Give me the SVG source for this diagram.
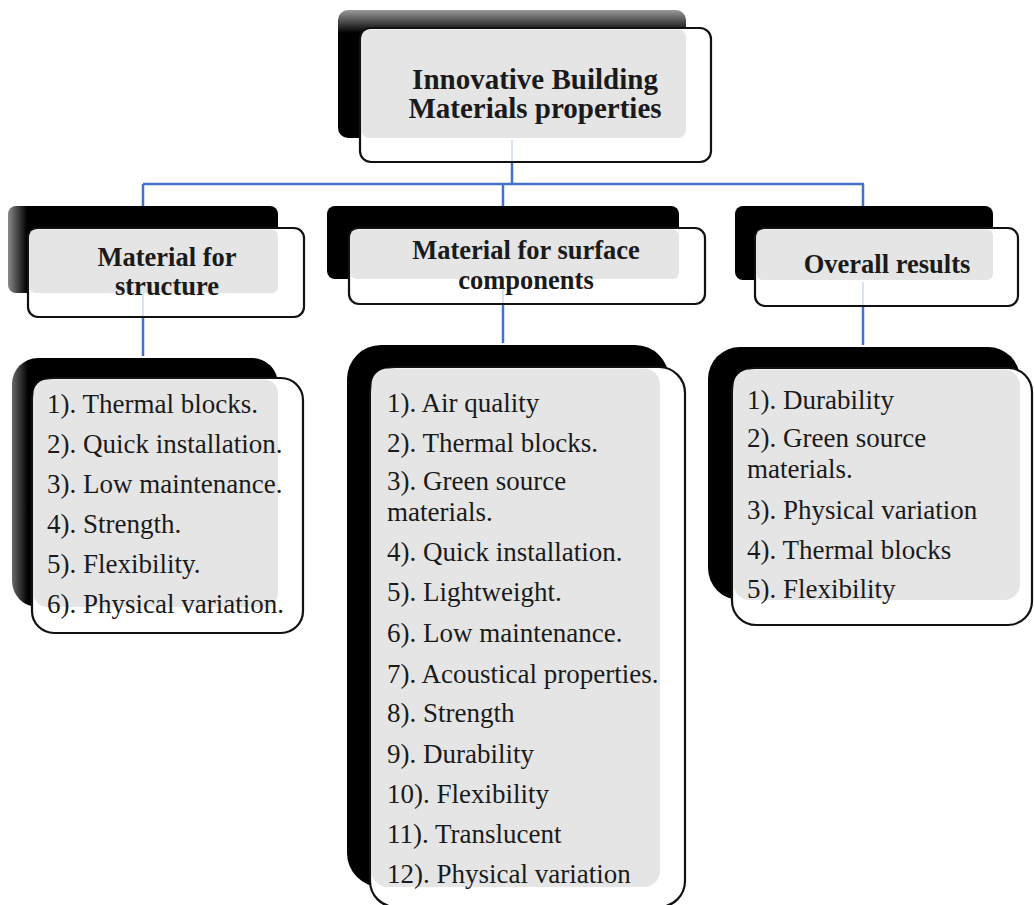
<svg xmlns="http://www.w3.org/2000/svg" width="1034" height="905" viewBox="0 0 1034 905">
<style>
.bk{fill:#000}
.ol{fill:#fff;stroke:#111;stroke-width:2.2}
.gr{fill:#e5e5e5}
.hd{font-family:"Liberation Serif","Times New Roman",Times,serif;font-weight:bold;font-size:26.5px;fill:#1a1a1a;text-anchor:middle}
.tt{font-family:"Liberation Serif","Times New Roman",Times,serif;font-weight:bold;font-size:29px;fill:#1a1a1a;text-anchor:middle}
.it{font-family:"Liberation Serif","Times New Roman",Times,serif;font-size:27px;fill:#1a1a1a}
.cn{fill:none;stroke:#4472c4;stroke-width:2.5}
.fn{fill:none;stroke:#4472c4;stroke-width:2;stroke-opacity:0.2}
</style>
<defs>
<linearGradient id="gv" x1="0" y1="0" x2="0" y2="1">
<stop offset="0" stop-color="#9a9a9a"/><stop offset="0.18" stop-color="#000"/><stop offset="1" stop-color="#000"/>
</linearGradient>
<linearGradient id="gh" x1="0" y1="0" x2="1" y2="0">
<stop offset="0" stop-color="#8a8a8a"/><stop offset="0.07" stop-color="#000"/><stop offset="1" stop-color="#000"/>
</linearGradient>
<linearGradient id="gh2" x1="0" y1="0" x2="1" y2="0">
<stop offset="0" stop-color="#6a6a6a"/><stop offset="0.06" stop-color="#000"/><stop offset="1" stop-color="#000"/>
</linearGradient>
</defs>
<rect x="0" y="0" width="1034" height="905" fill="#fff"/>

<g id="connectors">
<line class="cn" x1="512" y1="163" x2="512" y2="184"/>
<line class="cn" x1="143" y1="184" x2="864" y2="184"/>
<line class="cn" x1="143" y1="184" x2="143" y2="206"/>
<line class="cn" x1="503" y1="184" x2="503" y2="206"/>
<line class="cn" x1="863" y1="184" x2="863" y2="206"/>
<line class="cn" x1="143" y1="317" x2="143" y2="356"/>
<line class="cn" x1="503" y1="304" x2="503" y2="343"/>
<line class="cn" x1="863" y1="306" x2="863" y2="345"/>
</g>

<g id="node-title">
<rect x="338" y="10" width="348" height="128" rx="10" fill="url(#gv)"/>
<rect class="ol" x="360" y="28" width="351" height="134" rx="11"/>
<rect class="gr" x="361.5" y="29.5" width="324.5" height="108.5" rx="8"/>
<line class="fn" x1="512" y1="140" x2="512" y2="161"/>
<text class="tt" x="535" y="89">Innovative Building</text>
<text class="tt" x="535" y="118">Materials properties</text>
</g>

<g id="node-structure">
<rect x="8" y="206" width="270" height="87" rx="8" fill="url(#gh)"/>
<rect class="ol" x="28" y="228" width="276" height="89" rx="10"/>
<rect class="gr" x="29.5" y="229.5" width="248.5" height="63.5" rx="6"/>
<line class="fn" x1="143" y1="293" x2="143" y2="316"/>
<text class="hd" x="167" y="266">Material for</text>
<text class="hd" x="167" y="295">structure</text>
</g>

<g id="node-surface">
<rect class="bk" x="327" y="206" width="352" height="73" rx="8"/>
<rect class="ol" x="349" y="228" width="356" height="76" rx="10"/>
<rect class="gr" x="350.5" y="229.5" width="328.5" height="49.5" rx="6"/>
<line class="fn" x1="503" y1="281" x2="503" y2="303"/>
<text class="hd" x="526" y="259">Material for surface</text>
<text class="hd" x="526" y="289">components</text>
</g>

<g id="node-overall">
<rect class="bk" x="735" y="206" width="258" height="74" rx="8"/>
<rect class="ol" x="755" y="228" width="263" height="78" rx="10"/>
<rect class="gr" x="756.5" y="229.5" width="236.5" height="50.5" rx="6"/>
<line class="fn" x1="863" y1="282" x2="863" y2="305"/>
<text class="hd" x="887" y="273">Overall results</text>
</g>

<g id="list-structure">
<rect x="12" y="358" width="266" height="249" rx="26" fill="url(#gh2)"/>
<rect class="ol" x="32" y="378" width="271" height="255" rx="22"/>
<rect class="gr" x="33.5" y="379.5" width="244.5" height="227.5" rx="14"/>
<text class="it" x="47" y="413">1). Thermal blocks.</text>
<text class="it" x="47" y="453">2). Quick installation.</text>
<text class="it" x="47" y="493">3). Low maintenance.</text>
<text class="it" x="47" y="533">4). Strength.</text>
<text class="it" x="47" y="573">5). Flexibility.</text>
<text class="it" x="47" y="613">6). Physical variation.</text>
</g>

<g id="list-surface">
<rect class="bk" x="347" y="345" width="322" height="542" rx="34"/>
<rect class="ol" x="370" y="367" width="315" height="540" rx="26"/>
<rect class="gr" x="371.5" y="368.5" width="288.5" height="518.5" rx="16"/>
<text class="it" x="387" y="412">1). Air quality</text>
<text class="it" x="387" y="452">2). Thermal blocks.</text>
<text class="it" x="387" y="490">3). Green source</text>
<text class="it" x="387" y="521">materials.</text>
<text class="it" x="387" y="561">4). Quick installation.</text>
<text class="it" x="387" y="601">5). Lightweight.</text>
<text class="it" x="387" y="642">6). Low maintenance.</text>
<text class="it" x="387" y="683">7). Acoustical properties.</text>
<text class="it" x="387" y="722">8). Strength</text>
<text class="it" x="387" y="763">9). Durability</text>
<text class="it" x="387" y="803">10). Flexibility</text>
<text class="it" x="387" y="843">11). Translucent</text>
<text class="it" x="387" y="883">12). Physical variation</text>
</g>

<g id="list-overall">
<rect class="bk" x="708" y="347" width="312" height="253" rx="32"/>
<rect class="ol" x="732" y="368" width="300" height="257" rx="24"/>
<rect class="gr" x="733.5" y="369.5" width="286.5" height="230.5" rx="16"/>
<text class="it" x="747" y="409">1). Durability</text>
<text class="it" x="747" y="447">2). Green source</text>
<text class="it" x="747" y="478">materials.</text>
<text class="it" x="747" y="519">3). Physical variation</text>
<text class="it" x="747" y="559">4). Thermal blocks</text>
<text class="it" x="747" y="598">5). Flexibility</text>
</g>
</svg>
